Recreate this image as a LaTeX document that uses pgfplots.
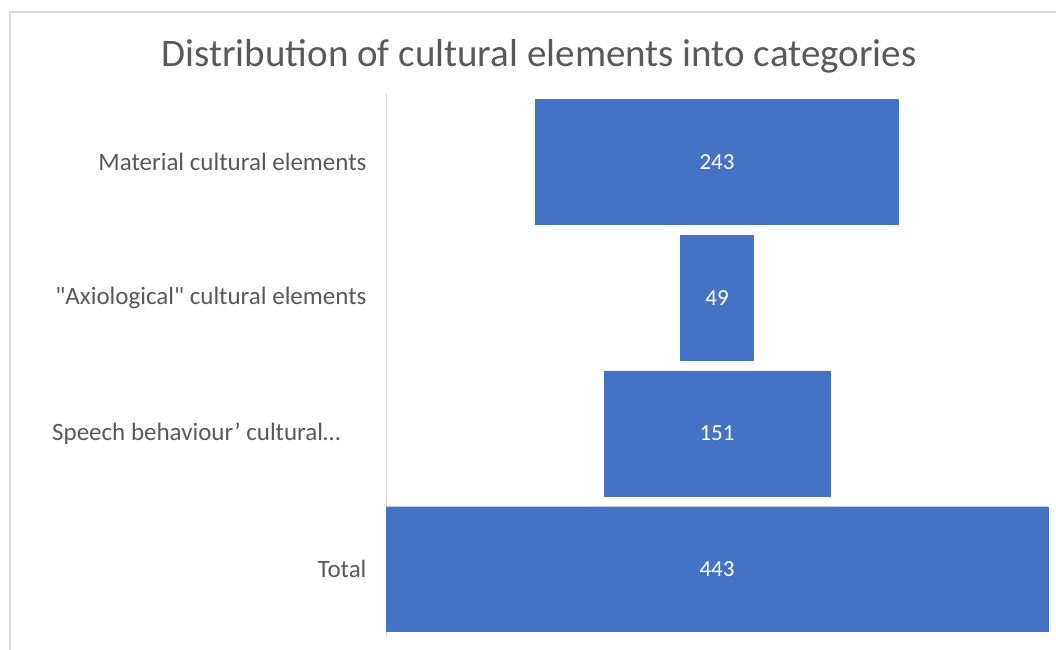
\documentclass[border=0pt]{standalone}
\usepackage{pgfplots}
\pgfplotsset{compat=1.18}
\usepackage{fontspec}
\setmainfont{Carlito}
\newfontfamily\rawq{Carlito}
\definecolor{barblue}{HTML}{4472C4}
\definecolor{txt}{HTML}{595959}
\definecolor{framegray}{HTML}{D9D9D9}
\begin{document}
\begin{tikzpicture}[x=1bp,y=1bp]
\path[use as bounding box, fill=white] (0,0) rectangle (1056,650);
\draw[framegray, line width=1.5bp] (10,0) -- (10,638) -- (1056,638);
\node[anchor=base, text=txt, font=\fontsize{39bp}{42bp}\selectfont, inner sep=0pt] at (539,583) {Distribution of cultural elements into categories};
\begin{axis}[
  anchor=south west, at={(386bp,13bp)},
  width=662bp, height=543bp, scale only axis,
  xmin=-221.5, xmax=221.5, ymin=-0.5, ymax=3.5, y dir=reverse,
  axis x line=none, axis y line*=left,
  y axis line style={framegray, line width=1bp},
  ytick={0,1,2,3},
  yticklabels={Material cultural elements,{{\rawq"}Axiological{\rawq"} cultural elements},{Speech behaviour' cultural…\rule{26bp}{0pt}},Total},
  major tick length=0pt,
  yticklabel style={text=txt, font=\fontsize{25bp}{27bp}\selectfont, xshift=-16bp},
  clip=false,
]
% right half of each bar (half of the value)
\addplot[xbar, bar width=0.92, bar shift=0pt, fill=barblue, draw=barblue, line width=0.3bp]
  coordinates {(121.5,0) (24.5,1) (75.5,2) (221.5,3)};
% left half of each bar
\addplot[xbar, bar width=0.92, bar shift=0pt, fill=barblue, draw=barblue, line width=0.3bp]
  coordinates {(-121.5,0) (-24.5,1) (-75.5,2) (-221.5,3)};
% value labels
\addplot[only marks, mark=none,
  nodes near coords, point meta=explicit symbolic,
  nodes near coords style={anchor=center, text=white, font=\fontsize{23bp}{25bp}\selectfont}]
  coordinates {(0,0) [243] (0,1) [49] (0,2) [151] (0,3) [443]};
\end{axis}
\end{tikzpicture}
\end{document}
